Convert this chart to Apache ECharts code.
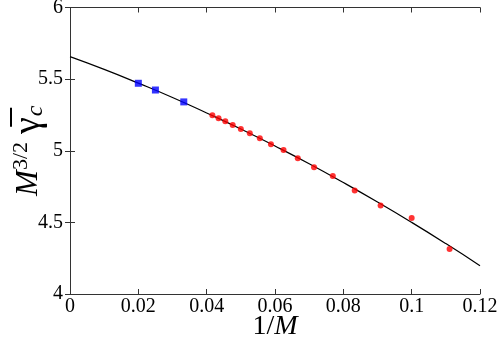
<!DOCTYPE html>
<html>
<head>
<meta charset="utf-8">
<script src="https://cdn.jsdelivr.net/npm/echarts@6/dist/echarts.min.js"></script>
<style>
html, body { margin: 0; padding: 0; background: #fff; }
#main { width: 498px; height: 338px; }
</style>
</head>
<body>
<div id="main"></div>
<script>
// 1/M for the large systems (blue squares)
var bigX = [0.02, 0.025, 0.0333];
var bigY = [5.471, 5.424, 5.341];
// 1/M for M = 24 ... 9 (red circles)
var smallX = [0.04167, 0.04348, 0.04545, 0.04762, 0.05, 0.05263, 0.05556, 0.05882,
    0.0625, 0.06667, 0.07143, 0.07692, 0.08333, 0.09091, 0.1, 0.1111];
var smallY = [5.248, 5.227, 5.206, 5.180, 5.152, 5.122, 5.087, 5.045,
    5.006, 4.948, 4.885, 4.824, 4.722, 4.617, 4.531, 4.315];
// fit curve
var fitX = [0, 0.01, 0.02, 0.03, 0.04, 0.05, 0.06, 0.07, 0.08, 0.09, 0.1, 0.11, 0.12];
var fitY = [5.657, 5.568, 5.472, 5.372, 5.264, 5.152, 5.033, 4.909, 4.778, 4.642, 4.50, 4.352, 4.198];

function pairs(xs, ys) {
    var out = [];
    for (var i = 0; i < xs.length; i++) out.push([xs[i], ys[i]]);
    return out;
}

var serif = '"Liberation Serif", "DejaVu Serif", serif';
var lineStyle = { color: '#333', width: 1 };

var myChart = echarts.init(document.getElementById('main'));
var option = {
    animation: false,
    grid: { left: 70, right: 18, top: 7.5, bottom: 44, containLabel: false, outerBoundsMode: 'none' },
    xAxis: [{
        type: 'value', min: 0, max: 0.12, interval: 0.02,
        axisLine: { show: true, onZero: false, lineStyle: lineStyle },
        axisTick: { inside: true, length: 5, lineStyle: lineStyle },
        splitLine: { show: false },
        axisLabel: { fontFamily: serif, fontSize: 20, color: '#000', margin: 3 },
        name: '{a|1/}{i|M}',
        nameLocation: 'middle',
        nameGap: 19,
        nameMoveOverlap: false,
        nameTextStyle: {
            rich: {
                a: { fontFamily: serif, fontSize: 28, color: '#000' },
                i: { fontFamily: serif, fontSize: 28, fontStyle: 'italic', color: '#000' }
            }
        }
    }, {
        type: 'value', min: 0, max: 0.12, interval: 0.02, position: 'top',
        axisLine: { show: true, lineStyle: lineStyle },
        axisTick: { inside: true, length: 5, lineStyle: lineStyle },
        axisLabel: { show: false },
        splitLine: { show: false }
    }],
    yAxis: [{
        type: 'value', min: 4, max: 6, interval: 0.5,
        axisLine: { show: true, onZero: false, lineStyle: lineStyle },
        axisTick: { inside: true, length: 5, lineStyle: lineStyle },
        splitLine: { show: false },
        axisLabel: { fontFamily: serif, fontSize: 20, color: '#000', margin: 7 },
        name: '{m|M}{sup|3/2}{g|\u03b3\u0305}{sub|c}',
        nameLocation: 'middle',
        nameRotate: 90,
        nameGap: 22,
        nameMoveOverlap: false,
        nameTextStyle: {
            rich: {
                m: { fontFamily: serif, fontSize: 31, fontStyle: 'italic', color: '#000' },
                sup: { fontFamily: serif, fontSize: 22, color: '#000', verticalAlign: 'top', padding: [0, 8, 12, 0] },
                g: { fontFamily: serif, fontSize: 38, color: '#000' },
                sub: { fontFamily: serif, fontSize: 24, fontStyle: 'italic', color: '#000', verticalAlign: 'bottom', padding: [10, 0, 0, 1] }
            }
        }
    }, {
        type: 'value', min: 4, max: 6, interval: 0.5, position: 'right',
        axisLine: { show: true, lineStyle: lineStyle },
        axisTick: { inside: true, length: 5, lineStyle: lineStyle },
        axisLabel: { show: false },
        splitLine: { show: false }
    }],
    series: [
        {
            type: 'line', data: pairs(fitX, fitY), smooth: true, showSymbol: false,
            lineStyle: { color: '#000', width: 1.2 }, z: 1
        },
        {
            type: 'scatter', data: pairs(bigX, bigY), symbol: 'rect', symbolSize: 7,
            itemStyle: { color: '#0000ff' }, z: 3
        },
        {
            type: 'scatter', data: pairs(smallX, smallY), symbol: 'circle', symbolSize: 6,
            itemStyle: { color: '#ff0000' }, z: 3
        }
    ]
};
myChart.setOption(option);
</script>
</body>
</html>
